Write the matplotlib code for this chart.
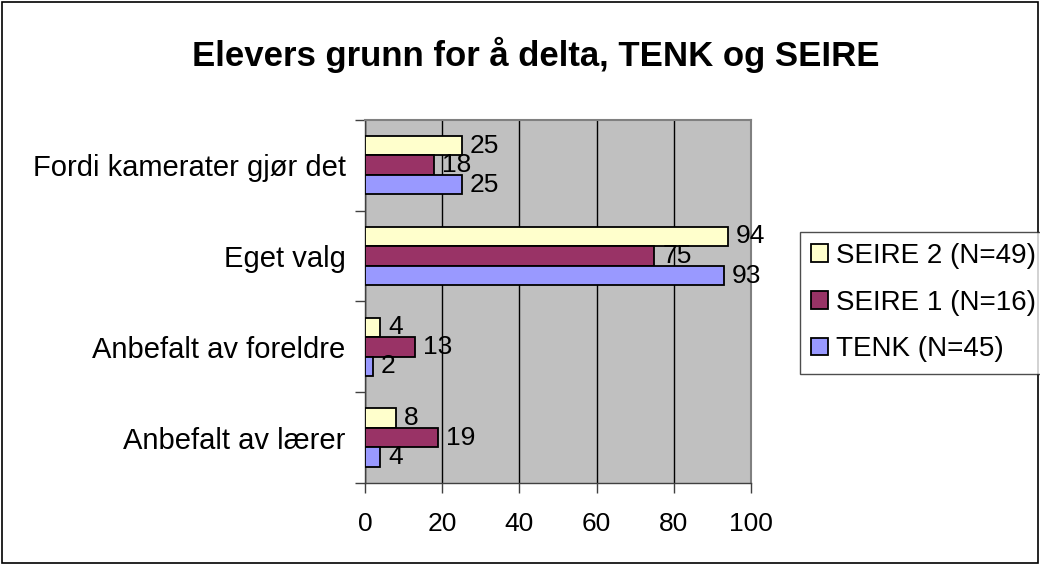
import numpy as np
import matplotlib.pyplot as plt
from matplotlib.patches import Rectangle

plt.rcParams['font.family'] = ['Liberation Sans', 'DejaVu Sans']

categories = ['Anbefalt av lærer', 'Anbefalt av foreldre', 'Eget valg', 'Fordi kamerater gjør det']
series_names = ['SEIRE 2 (N=49)', 'SEIRE 1 (N=16)', 'TENK (N=45)']
seire2 = [8, 4, 94, 25]
seire1 = [19, 13, 75, 18]
tenk = [4, 2, 93, 25]
colors = ['#FFFFCC', '#993366', '#9999FF']
x_ticks = [0, 20, 40, 60, 80, 100]


def build_chart():
    fig = plt.figure(figsize=(10.4, 5.65), dpi=100)
    ax = fig.add_axes([0.351, 0.145, 0.371, 0.643])
    ax.set_facecolor('#C0C0C0')

    y = np.arange(len(categories))
    h = 0.215
    offsets = [h, 0, -h]
    handles = []
    for vals, name, col, off in zip([seire2, seire1, tenk], series_names, colors, offsets):
        b = ax.barh(y + off, vals, height=h, color=col, edgecolor='black', linewidth=1.3,
                    label=name, zorder=3)
        handles.append(b)
        for yi, v in zip(y, vals):
            ax.text(v + 2.0, yi + off, str(v), va='center', ha='left', fontsize=19, zorder=4)

    ax.set_xlim(0, 100)
    ax.set_ylim(-0.5, len(categories) - 0.5)
    ax.set_xticks(x_ticks)
    ax.set_xticklabels([str(t) for t in x_ticks], fontsize=19)
    ax.set_yticks(np.arange(len(categories) + 1) - 0.5)
    ax.set_yticklabels([])
    ax.set_yticks(y, minor=True)
    ax.set_yticklabels(categories, minor=True, fontsize=21)
    ax.tick_params(axis='y', which='minor', length=0, pad=14)
    ax.tick_params(axis='y', which='major', length=7, width=1, color='#404040')
    ax.tick_params(axis='x', length=7, width=1, color='#404040', pad=14)
    ax.xaxis.grid(True, color='black', linewidth=1, zorder=1)
    ax.set_axisbelow(True)
    for side in ['top', 'right']:
        ax.spines[side].set_color('#808080')
        ax.spines[side].set_linewidth(1.5)
    for side in ['left', 'bottom']:
        ax.spines[side].set_color('#404040')
        ax.spines[side].set_linewidth(1)

    fig.text(0.515, 0.903, 'Elevers grunn for å delta, TENK og SEIRE', ha='center', va='center',
             fontsize=25, fontweight='bold')

    leg = fig.legend(handles=handles, loc='upper left', bbox_to_anchor=(0.769, 0.59),
                     fontsize=20, frameon=True, fancybox=False, edgecolor='#202020',
                     handlelength=0.6, handleheight=0.6, handletextpad=0.3,
                     labelspacing=0.75, borderpad=0.4, borderaxespad=0)
    leg.get_frame().set_linewidth(1)

    fig.patches.append(Rectangle((0.002, 0.003), 0.996, 0.994, transform=fig.transFigure,
                                 fill=False, edgecolor='black', linewidth=1.2))
    fig.savefig('out.png', dpi=100)


build_chart()
